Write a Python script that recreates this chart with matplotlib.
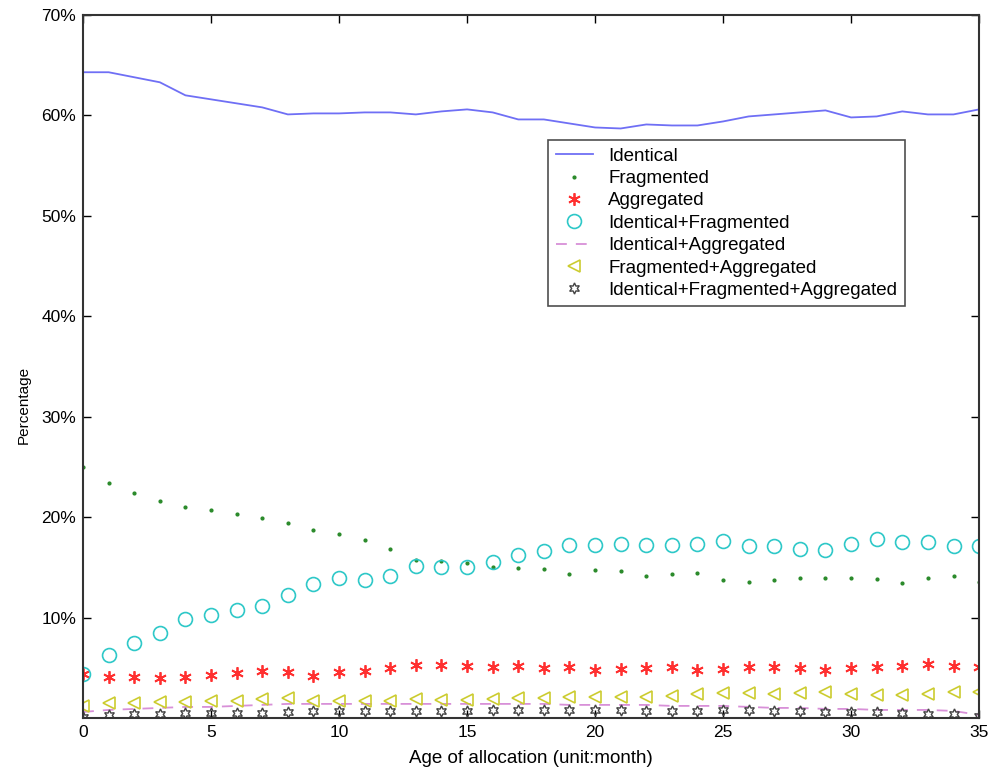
import matplotlib.pyplot as plt
import numpy as np

plt.rcParams['font.family'] = ['Liberation Sans', 'DejaVu Sans']

# months 0..35
months = np.arange(36)

identical = [64.3, 64.3, 63.8, 63.3, 62.0, 61.6, 61.2, 60.8, 60.1, 60.2,
             60.2, 60.3, 60.3, 60.1, 60.4, 60.6, 60.3, 59.6, 59.6, 59.2,
             58.8, 58.7, 59.1, 59.0, 59.0, 59.4, 59.9, 60.1, 60.3, 60.5,
             59.8, 59.9, 60.4, 60.1, 60.1, 60.6]

fragmented = [25.0, 23.4, 22.4, 21.6, 21.0, 20.7, 20.3, 19.95, 19.4, 18.7,
              18.3, 17.7, 16.8, 15.7, 15.6, 15.4, 15.0, 14.9, 14.8, 14.3,
              14.7, 14.6, 14.1, 14.3, 14.4, 13.7, 13.5, 13.7, 13.9, 13.9,
              13.9, 13.8, 13.4, 13.9, 14.1, 13.5]

aggregated = [4.4, 4.1, 4.1, 3.95, 4.1, 4.3, 4.5, 4.7, 4.55, 4.2,
              4.55, 4.7, 4.95, 5.3, 5.3, 5.2, 5.1, 5.2, 4.95, 5.05,
              4.8, 4.85, 4.95, 5.1, 4.8, 4.9, 5.1, 5.1, 4.95, 4.8,
              5.0, 5.1, 5.2, 5.4, 5.2, 5.1]

ident_frag = [4.4, 6.3, 7.5, 8.5, 9.9, 10.3, 10.8, 11.1, 12.2, 13.3,
              13.9, 13.7, 14.1, 15.1, 15.0, 15.0, 15.5, 16.2, 16.6, 17.2,
              17.2, 17.3, 17.2, 17.2, 17.3, 17.6, 17.1, 17.1, 16.8, 16.7,
              17.3, 17.8, 17.5, 17.5, 17.1, 17.1]

ident_aggr = [0.6, 0.8, 0.9, 1.0, 1.1, 1.1, 1.2, 1.3, 1.4, 1.4,
              1.4, 1.4, 1.4, 1.4, 1.4, 1.4, 1.4, 1.4, 1.4, 1.3,
              1.3, 1.3, 1.3, 1.2, 1.2, 1.2, 1.1, 1.0, 1.0, 0.9,
              0.9, 0.8, 0.8, 0.8, 0.7, 0.3]

frag_aggr = [1.2, 1.5, 1.5, 1.6, 1.6, 1.7, 1.7, 1.9, 2.0, 1.7,
             1.7, 1.7, 1.7, 1.9, 1.8, 1.8, 1.9, 2.0, 2.0, 2.1,
             2.1, 2.1, 2.1, 2.2, 2.4, 2.5, 2.5, 2.4, 2.5, 2.6,
             2.4, 2.3, 2.3, 2.4, 2.6, 2.6]

all_three = [0.1, 0.3, 0.4, 0.4, 0.5, 0.5, 0.5, 0.5, 0.6, 0.7,
             0.7, 0.7, 0.7, 0.7, 0.7, 0.7, 0.8, 0.8, 0.8, 0.8,
             0.8, 0.8, 0.7, 0.7, 0.7, 0.8, 0.8, 0.7, 0.7, 0.6,
             0.6, 0.6, 0.5, 0.4, 0.4, 0.2]

yticks = [10, 20, 30, 40, 50, 60, 70]
ylabels = ['10%', '20%', '30%', '40%', '50%', '60%', '70%']

fig = plt.figure(figsize=(9.92, 7.73), dpi=100)
ax = fig.add_axes([0.0837, 0.0712, 0.9033, 0.9094])

ax.plot(months, identical, '-', color='#6f6ff5', lw=1.3, label='Identical')
ax.plot(months, fragmented, '.', color='#2a8a2a', ms=4, label='Fragmented')
ax.plot(months, aggregated, ls='none', marker=(6, 2, 0), color='#ff3030', ms=9,
        mew=1.3, label='Aggregated')
ax.plot(months, ident_frag, 'o', color='#2ec8c8', mfc='none', ms=10, mew=1.2,
        label='Identical+Fragmented')
ax.plot(months, ident_aggr, '--', color='#d890d8', lw=1.3, dashes=(6, 5),
        label='Identical+Aggregated')
ax.plot(months, frag_aggr, '<', color='#cccc30', mfc='none', ms=9, mew=1.2,
        label='Fragmented+Aggregated')
ax.plot(months, all_three, ls='none', marker=(6, 1, 0), color='#444444', mfc='none',
        ms=8, mew=1.0, label='Identical+Fragmented+Aggregated')

ax.set_xlim(0, 35)
ax.set_ylim(0, 70)
ax.set_xticks([0, 5, 10, 15, 20, 25, 30, 35])
ax.set_yticks(yticks)
ax.set_yticklabels(ylabels)
ax.tick_params(direction='in', top=True, right=True, labelsize=12.5, length=6,
               width=1, pad=5)
for s in ax.spines.values():
    s.set_linewidth(1.5)
    s.set_color('#333333')

ax.set_xlabel('Age of allocation (unit:month)', fontsize=13.5, labelpad=7)
ax.set_ylabel('Percentage', fontsize=11)
ax.yaxis.set_label_coords(-0.058, 0.445)

leg = ax.legend(loc='upper left', bbox_to_anchor=(0.519, 0.822), fontsize=13.5,
                frameon=True, fancybox=False, edgecolor='#222222',
                borderaxespad=0, labelspacing=0.28, handlelength=2.0,
                handletextpad=0.8, borderpad=0.4)
leg.get_frame().set_linewidth(1.2)

fig.savefig('out.png', dpi=100)
